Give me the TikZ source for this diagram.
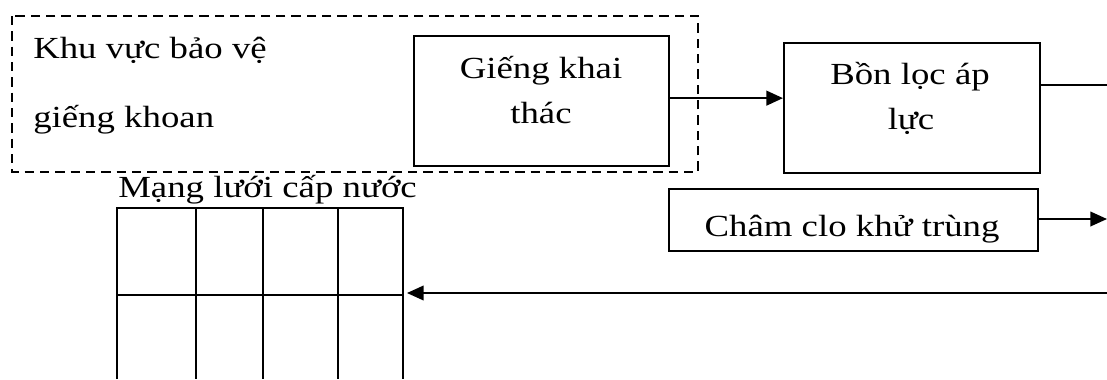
\documentclass[tikz,border=0pt]{standalone}
\usepackage{fontspec}
\setmainfont[FakeStretch=1.2]{Liberation Serif}
\usetikzlibrary{arrows.meta}
\begin{document}
\begin{tikzpicture}[x=0.75pt,y=-0.75pt,
  lbl/.style={font=\fontsize{23pt}{34pt}\selectfont, inner sep=0pt},
  boxn/.style={draw, line width=1.7pt, anchor=north west, inner sep=0pt},
  ln/.style={line width=1.7pt},
  arr/.style={line width=1.7pt, -{Triangle[length=12.5pt,width=11pt]}},
  arrs/.style={line width=1.3pt, -{Triangle[length=12.5pt,width=11pt]}}]
\useasboundingbox (0,0) rectangle (1107,379);
% dashed protection zone
\draw[line width=1.5pt, dash pattern=on 7pt off 4.5pt] (12,16) rectangle (698,172);
\node[lbl, anchor=base west] (kv1) at (33,58) {Khu vực bảo vệ};
\node[lbl, anchor=base west] (kv2) at (33,127) {giếng khoan};
% boxes
\node[boxn, minimum width=191.25pt, minimum height=97.5pt] (gieng) at (413,35) {};
\node[lbl, anchor=base] (gieng1) at (541,78) {Giếng khai};
\node[lbl, anchor=base] (gieng2) at (541,123) {thác};
\node[boxn, minimum width=192pt, minimum height=97.5pt] (bon) at (783,42) {};
\node[lbl, anchor=base] (bon1) at (910,84) {Bồn lọc áp};
\node[lbl, anchor=base] (bon2) at (911,129) {lực};
\node[boxn, minimum width=276.75pt, minimum height=46.5pt] (cham) at (668,188) {};
\node[lbl, anchor=base] (cham1) at (852,236) {Châm clo khử trùng};
% network label and grid
\node[lbl, anchor=base west] (mang) at (118,197) {Mạng lưới cấp nước};
\coordinate (gnw) at (117,208);
\coordinate (gse) at (403,379);
\draw[ln] (117,379) -- (gnw) -- (403,208) -- (gse);
\draw[ln] (196,208) -- (196,379);
\draw[ln] (263,208) -- (263,379);
\draw[ln] (338,208) -- (338,379);
\draw[ln] (117,295) coordinate (gw) -- (403,295) coordinate (ge);
% connectors
\coordinate (r1) at (1107,85);
\coordinate (r2) at (1107,219);
\coordinate (r3) at (1107,293);
\draw[arr] (gieng.east) ++(0,-3) coordinate (ge1) -- (ge1 -| bon.west);
\draw[ln] (r1 -| bon.east) -- (r1);
\draw[arrs] (r2 -| cham.east) -- (r2);
\draw[arrs] (r3) -- ([xshift=3pt]r3 -| ge);
\end{tikzpicture}
\end{document}
